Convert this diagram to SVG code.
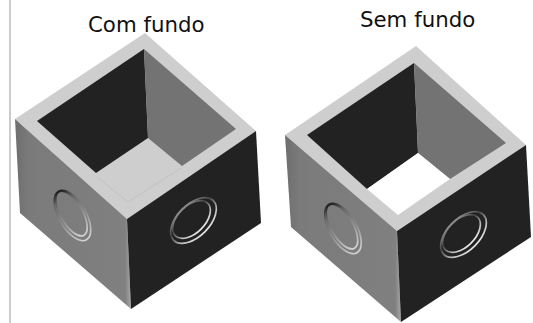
<svg xmlns="http://www.w3.org/2000/svg" width="533" height="323" viewBox="0 0 533 323">
<style>
.rim{fill:#cecece}.dark{fill:#232323}.wall{fill:#737373}.side{fill:url(#sideG)}.side2{fill:url(#sideG2)}
.label{font-family:"DejaVu Sans",Verdana,sans-serif;font-size:21.3px;fill:#111}
.r{fill:none;stroke-width:1.7}
.rl{stroke:url(#ringL2)}.rr{stroke:url(#ringR2)}
</style>
<defs>
<filter id="soft" x="-5%" y="-5%" width="110%" height="110%"><feGaussianBlur stdDeviation="0.55"/></filter>
<filter id="softer" x="-20%" y="-20%" width="140%" height="140%"><feGaussianBlur stdDeviation="0.6"/></filter>
<linearGradient id="sideG" gradientUnits="userSpaceOnUse" x1="15" y1="0" x2="131" y2="0"><stop offset="0" stop-color="#6e6e6e"/><stop offset=".12" stop-color="#7a7a7a"/><stop offset=".95" stop-color="#808080"/><stop offset="1" stop-color="#a8a8a8"/></linearGradient>
<linearGradient id="sideG2" gradientUnits="userSpaceOnUse" x1="285" y1="0" x2="401" y2="0"><stop offset="0" stop-color="#6e6e6e"/><stop offset=".12" stop-color="#7a7a7a"/><stop offset=".95" stop-color="#808080"/><stop offset="1" stop-color="#a8a8a8"/></linearGradient>
<linearGradient id="ringR2" x1="0" y1="0" x2="0" y2="1"><stop offset="0" stop-color="#8a8a8a"/><stop offset=".35" stop-color="#444"/><stop offset=".75" stop-color="#bdbdbd"/><stop offset="1" stop-color="#e4e4e4"/></linearGradient>
<linearGradient id="ringL2" x1="0" y1="0" x2="1" y2="0"><stop offset="0" stop-color="#222"/><stop offset=".2" stop-color="#666"/><stop offset=".6" stop-color="#949494"/><stop offset="1" stop-color="#d4d4d4"/></linearGradient>
</defs>
<rect width="533" height="323" fill="#fff"/>
<rect id="page-edge" x="9" y="0" width="2" height="323" fill="#cbcbcb"/>
<g id="box-com-fundo" filter="url(#soft)">
<path class="rim" d="M145 33L15 119L127 219L256 131Z"/>
<path class="side" d="M15 119L127 219L131 309L20 213Z"/>
<path class="dark" d="M127 219L256 131L261 223L131 309Z"/>
<path class="dark" d="M144 49L37 121L96 173L148 138Z"/>
<path class="wall" d="M144 49L236 129L182 166L148 138Z"/>
<path d="M97 177L128 202L181 168" fill="none" stroke="#c2c2c2" stroke-width="1"/>
</g>
<g id="holes-com-fundo" filter="url(#softer)">
<g transform="translate(72.5 215.5)">
<ellipse class="r rl" rx="28" ry="13.5" transform="rotate(60)"/>
<ellipse class="r rl" rx="25" ry="11" transform="translate(-1 -2) rotate(60)"/>
</g>
<g transform="translate(193.5 220.5)">
<ellipse class="r rr" rx="28" ry="16" transform="rotate(-45)"/>
<ellipse class="r rr" rx="23" ry="13.5" transform="translate(-2 -1) rotate(-45)"/>
</g>
</g>
<g id="box-sem-fundo" filter="url(#soft)">
<path class="rim" d="M416 46L285 135L397 231L526 145Z"/>
<path class="side2" d="M285 135L397 231L401 322L291 227Z"/>
<path class="dark" d="M397 231L526 145L531 237L401 322Z"/>
<path class="dark" d="M414 63L307 135L367 189L418 153Z"/>
<path class="wall" d="M414 63L506 143L450 179L418 153Z"/>
<path fill="#fff" d="M418 153L367 189L398 215L450 179Z"/>
</g>
<g id="holes-sem-fundo" filter="url(#softer)">
<g transform="translate(343 228.5)">
<ellipse class="r rl" rx="28" ry="13.5" transform="rotate(60)"/>
<ellipse class="r rl" rx="25" ry="11" transform="translate(-1 -2) rotate(60)"/>
</g>
<g transform="translate(463.5 234.5)">
<ellipse class="r rr" rx="28" ry="16" transform="rotate(-45)"/>
<ellipse class="r rr" rx="23" ry="13.5" transform="translate(-2 -1) rotate(-45)"/>
</g>
</g>
<text class="label" x="88" y="32">Com fundo</text>
<text class="label" x="360" y="27">Sem fundo</text>
</svg>
